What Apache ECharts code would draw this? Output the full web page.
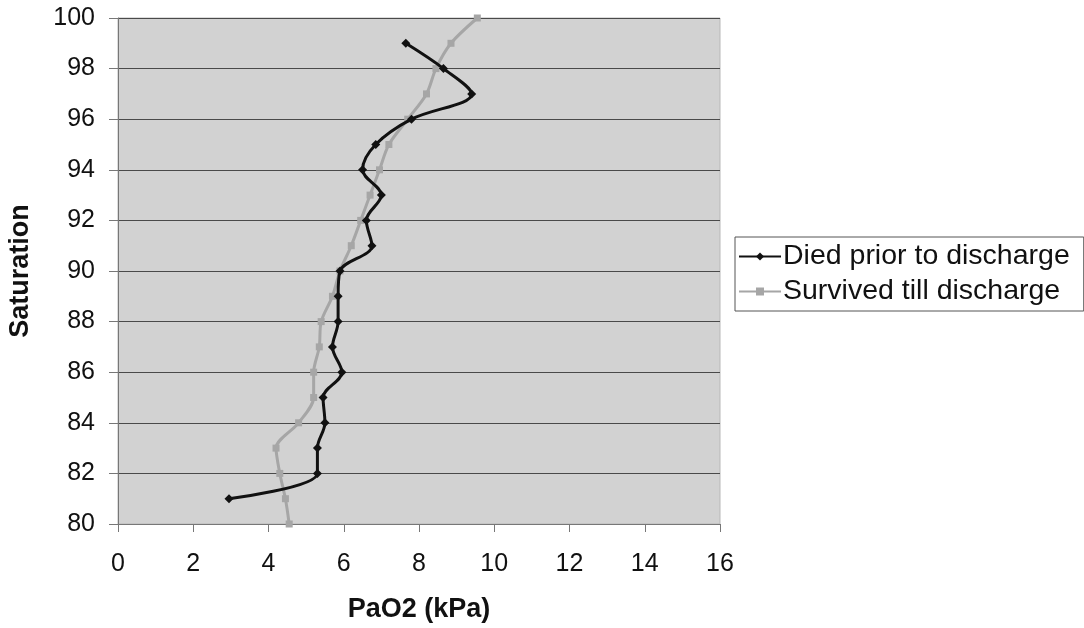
<!DOCTYPE html>
<html>
<head>
<meta charset="utf-8">
<script src="https://cdn.jsdelivr.net/npm/echarts@6/dist/echarts.min.js"></script>
<style>
  html, body { margin: 0; padding: 0; background: #ffffff; }
  #chart { width: 1084px; height: 628px; }
</style>
</head>
<body>
<div id="chart"></div>
<script>
// Saturation (%) against arterial PaO2 (kPa) for two patient outcome groups
const diedSaturation = [99, 98, 97, 96, 95, 94, 93, 92, 91, 90, 89, 88, 87, 86, 85, 84, 83, 82, 81];
const diedPaO2 = [7.65, 8.65, 9.4, 7.8, 6.85, 6.5, 7.0, 6.6, 6.75, 5.9, 5.85, 5.85, 5.7, 5.95, 5.45, 5.5, 5.3, 5.3, 2.95];

const survivedSaturation = [100, 99, 98, 97, 96, 95, 94, 93, 92, 91, 90, 89, 88, 87, 86, 85, 84, 83, 82, 81, 80];
const survivedPaO2 = [9.55, 8.85, 8.45, 8.2, 7.7, 7.2, 6.95, 6.7, 6.45, 6.2, 5.9, 5.7, 5.4, 5.35, 5.2, 5.2, 4.8, 4.2, 4.3, 4.45, 4.55];

const seriesNames = ['Died prior to discharge', 'Survived till discharge'];

const pairs = (xs, ys) => xs.map((x, i) => [x, ys[i]]);

const FONT = '"Liberation Sans", Arial, sans-serif';

const chart = echarts.init(document.getElementById('chart'), null, { renderer: 'canvas' });

chart.setOption({
  backgroundColor: '#ffffff',
  animation: false,
  textStyle: { fontFamily: FONT },
  grid: {
    left: 118, right: 364, top: 18, bottom: 104,
    outerBoundsMode: 'none',
    containLabel: false,
    show: true,
    backgroundColor: '#d2d2d2',
    borderColor: '#b8b8b8',
    borderWidth: 1
  },
  legend: {
    orient: 'vertical',
    left: 735, top: 237,
    padding: [5, 14, 5, 3],
    itemGap: 6,
    itemWidth: 42, itemHeight: 10,
    borderColor: '#555',
    borderWidth: 1,
    backgroundColor: '#ffffff',
    textStyle: { fontFamily: FONT, fontSize: 28.5, color: '#111', padding: [0, 0, 0, -3] },
    data: seriesNames
  },
  xAxis: {
    type: 'value',
    min: 0, max: 16, interval: 2,
    name: 'PaO2 (kPa)',
    nameLocation: 'middle',
    nameGap: 72,
    nameTextStyle: { fontFamily: FONT, fontSize: 27, fontWeight: 'bold', color: '#111' },
    axisLine: { show: true, onZero: false, lineStyle: { color: '#777', width: 1 } },
    axisTick: { show: true, inside: false, length: 8, lineStyle: { color: '#777' } },
    axisLabel: { fontFamily: FONT, fontSize: 25, color: '#111', margin: 28 },
    splitLine: { show: false }
  },
  yAxis: {
    type: 'value',
    min: 80, max: 100, interval: 2,
    name: 'Saturation',
    nameLocation: 'middle',
    nameRotate: 90,
    nameGap: 84,
    nameTextStyle: { fontFamily: FONT, fontSize: 27, fontWeight: 'bold', color: '#111' },
    axisLine: { show: true, onZero: false, lineStyle: { color: '#777', width: 1 } },
    axisTick: { show: true, inside: false, length: 9, lineStyle: { color: '#777' } },
    axisLabel: { fontFamily: FONT, fontSize: 25, color: '#111', margin: 23 },
    splitLine: { show: true, lineStyle: { color: '#4a4a4a', width: 1 } }
  },
  series: [
    {
      name: seriesNames[0],
      type: 'line',
      data: pairs(diedPaO2, diedSaturation),
      smooth: 0.35,
      symbol: 'diamond',
      symbolSize: 9,
      itemStyle: { color: '#111111' },
      lineStyle: { color: '#111111', width: 3 },
      z: 3
    },
    {
      name: seriesNames[1],
      type: 'line',
      data: pairs(survivedPaO2, survivedSaturation),
      smooth: 0.3,
      symbol: 'rect',
      symbolSize: 7,
      itemStyle: { color: '#a6a6a6' },
      lineStyle: { color: '#a6a6a6', width: 3 },
      z: 2
    }
  ]
});
</script>
</body>
</html>
